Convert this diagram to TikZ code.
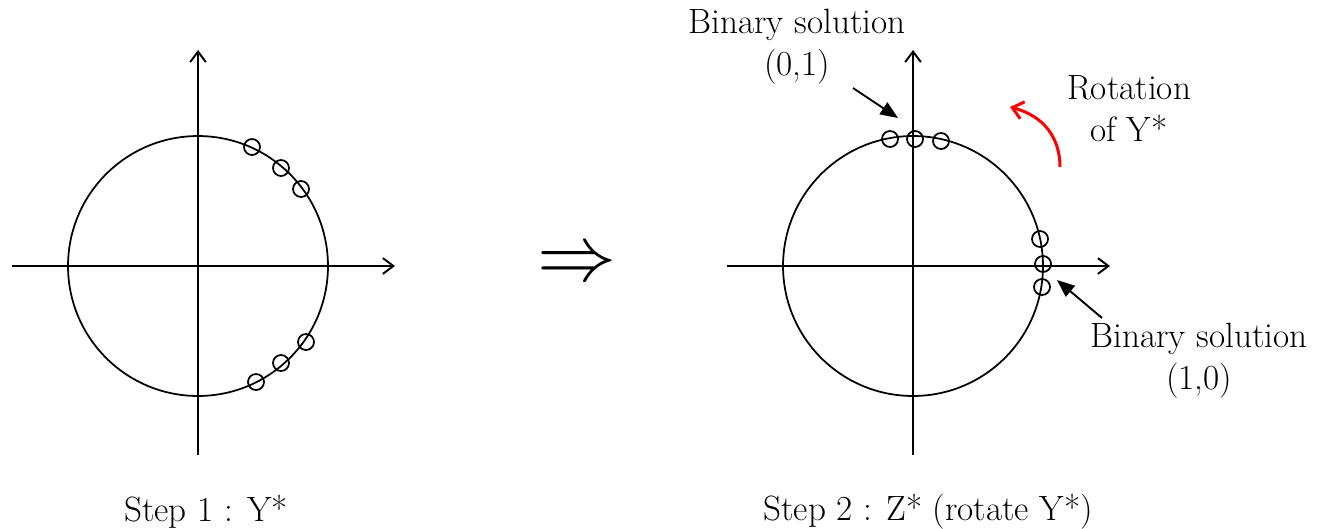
\documentclass[tikz,border=0pt]{standalone}
\usetikzlibrary{arrows.meta,calc}

\begin{document}
\begin{tikzpicture}[x=0.02cm,y=-0.02cm,
  axis/.style={line width=1.1pt,-{Straight Barb[length=6pt,width=9pt,line width=1.1pt]}},
  ring/.style={line width=1pt},
  spot/.style={draw,circle,line width=1pt,minimum size=0.32cm,inner sep=0pt},
  pointer/.style={line width=1.1pt,-{Triangle[length=10pt,width=8pt]}},
  turn/.style={red,line width=1.7pt,-{Straight Barb[length=6pt,width=10pt,line width=1.7pt]}},
  lbl/.style={font=\fontsize{20}{24}\selectfont,align=center,inner sep=0pt}
]
\useasboundingbox (0,0) rectangle (1317,528);

% step 1
\coordinate (c1) at (198,266);
\coordinate (x1a) at (12,266); \coordinate (x1b) at (395,266);
\coordinate (y1a) at (198,455); \coordinate (y1b) at (198,50);
\draw[axis] (x1a) -- (x1b);
\draw[axis] (y1a) -- (y1b);
\draw[ring] (c1) circle[radius=2.6cm];
\node[spot] (p1) at (252,147) {};
\node[spot] (p2) at (281,168) {};
\node[spot] (p3) at (301,189) {};
\node[spot] (p4) at (306,342) {};
\node[spot] (p5) at (281,363) {};
\node[spot] (p6) at (256,382) {};
\node[lbl] (cap1) at (206,512) {Step 1 : Y*};

\node[scale=4.5] (imp) at (577,266) {$\Rightarrow$};

% step 2
\coordinate (c2) at (913,266);
\coordinate (x2a) at (727,266); \coordinate (x2b) at (1110,266);
\coordinate (y2a) at (913,455); \coordinate (y2b) at (913,50);
\draw[axis] (x2a) -- (x2b);
\draw[axis] (y2a) -- (y2b);
\draw[ring] (c2) circle[radius=2.6cm];
\node[spot] (q1) at (890,139) {};
\node[spot] (q2) at (915,139) {};
\node[spot] (q3) at (941,141) {};
\node[spot] (q4) at (1040,239) {};
\node[spot] (q5) at (1043,264) {};
\node[spot] (q6) at (1042,287) {};
\node[lbl] (cap2) at (928,512) {Step 2 : Z* (rotate Y*)};

\node[lbl] (sol01) at (797,47) {Binary solution\\(0,1)};
\node[lbl] (sol10) at (1199,361) {Binary solution\\(1,0)};
\node[lbl] (rot) at (1129,109) {Rotation\\of Y*};
\coordinate (t01) at (853,88); \coordinate (h01) at (898,118);
\coordinate (t10) at (1102,318); \coordinate (h10) at (1057,280);
\draw[pointer] (t01) -- (h01);
\draw[pointer] (t10) -- (h10);
\coordinate (ra) at (1060,167); \coordinate (rb) at (1010,107);
\draw[turn] (ra) .. controls (1060,138) and (1044,116) .. (rb);
\end{tikzpicture}
\end{document}
